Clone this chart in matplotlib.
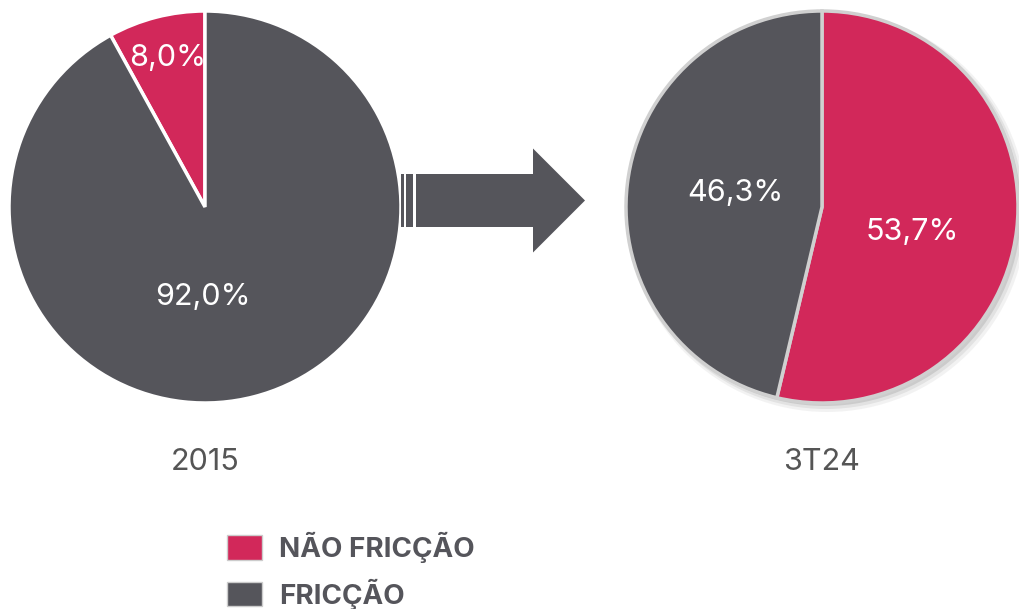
import matplotlib.pyplot as plt
import matplotlib.patches as mpatches

plt.rcParams['font.family'] = ['Inter', 'DejaVu Sans']

categories = ["NÃO FRICÇÃO", "FRICÇÃO"]
periods = ["2015", "3T24"]
share_2015 = [8.0, 92.0]
share_3t24 = [53.7, 46.3]

RED = "#D2285A"
GRAY = "#55555B"
colors = [RED, GRAY]

fig = plt.figure(figsize=(10.19, 6.09), dpi=100)
ax = fig.add_axes([0, 0, 1, 1])

H = 609
left_c = (205, H - 207)
right_c = (822, H - 207)
R = 196

# 2015: red slice to the left of twelve o'clock
w1, _ = ax.pie(share_2015, colors=colors, startangle=90, counterclock=True,
               center=left_c, radius=R,
               wedgeprops=dict(edgecolor="white", linewidth=2.5))

# soft shadow behind the 3T24 pie
for off, a, grow in [(5, 0.10, 4), (4, 0.15, 2), (3, 0.25, 0)]:
    ax.add_patch(mpatches.Circle((right_c[0] + off, right_c[1] - off), R + grow,
                                 color="#888888", alpha=a, lw=0, zorder=0))

w2, _ = ax.pie(share_3t24, colors=colors, startangle=90, counterclock=False,
               center=right_c, radius=R,
               wedgeprops=dict(edgecolor="#D0D0D0", linewidth=2.5))

def pct(v):
    return f"{v:.1f}%".replace(".", ",")

lab = dict(color="white", fontsize=22, ha="center", va="center")
ax.text(168, H - 58, pct(share_2015[0]), **lab)
ax.text(203, H - 297, pct(share_2015[1]), **lab)
ax.text(912, H - 232, pct(share_3t24[0]), **lab)
ax.text(735, H - 193, pct(share_3t24[1]), **lab)

ax.text(left_c[0], H - 462, periods[0], color="#555555", fontsize=22,
        ha="center", va="center")
ax.text(right_c[0], H - 462, periods[1], color="#555555", fontsize=22,
        ha="center", va="center")

# arrow between the two pies
ax.add_patch(mpatches.FancyArrow(416, H - 200.5, 585 - 416, 0, width=53,
                                 head_width=104, head_length=52,
                                 length_includes_head=True, color=GRAY, lw=0))
ax.add_patch(mpatches.Rectangle((406, H - 227), 7, 53, color=GRAY, lw=0))
ax.add_patch(mpatches.Rectangle((401.5, H - 227), 2.5, 53, color=GRAY, lw=0))

handles = [mpatches.Patch(facecolor=c, edgecolor="#CCCCCC", linewidth=1)
           for c in colors]
leg = ax.legend(handles, categories, loc="upper left",
                bbox_to_anchor=(227 / 1019, 1 - 532 / H),
                bbox_transform=fig.transFigure, frameon=False, borderpad=0,
                borderaxespad=0, prop=dict(size=20, weight="bold"),
                handlelength=1.26, handleheight=1.0, handletextpad=0.6,
                labelspacing=0.55)
for t in leg.get_texts():
    t.set_color(GRAY)

ax.set_xlim(0, 1019)
ax.set_ylim(0, H)
ax.set_aspect("equal")
ax.axis("off")

fig.savefig("out.png", dpi=100)
